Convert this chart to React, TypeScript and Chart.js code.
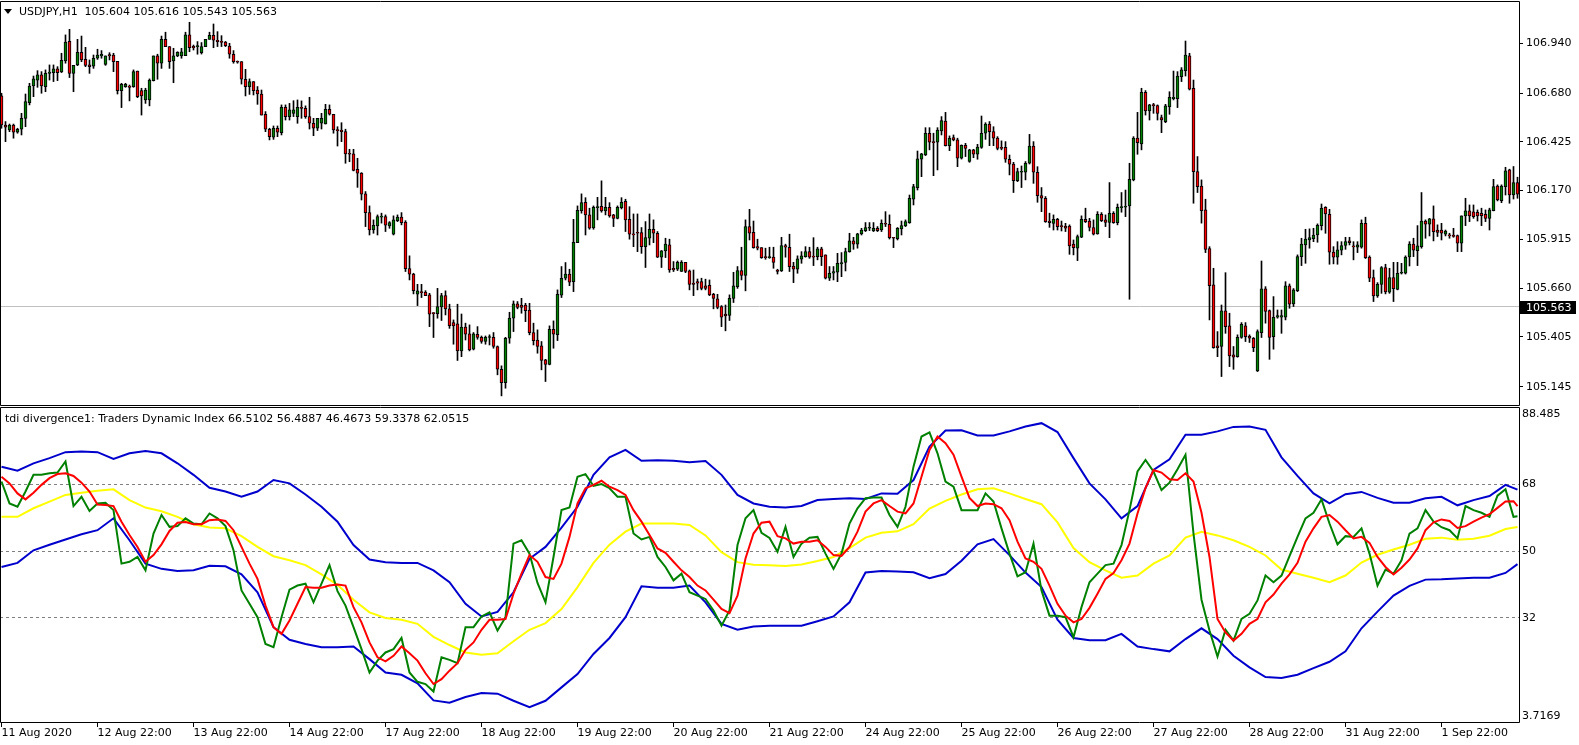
import React, { useEffect, useRef } from 'react';
import { Chart, registerables } from 'chart.js';

Chart.register(...registerables);

// ---------- Price panel data (USDJPY H1) ----------
const symbolTitle = 'USDJPY,H1';
const headerOHLC = ['105.604', '105.616', '105.543', '105.563'];
const currentPrice = 105.563;
const priceTicks = [106.94, 106.68, 106.425, 106.17, 105.915, 105.66, 105.405, 105.145];

const timeTickBars = [0, 24, 48, 72, 96, 120, 144, 168, 192, 216, 240, 264, 288, 312, 336, 360];
const timeTickLabels = [
  '11 Aug 2020', '12 Aug 22:00', '13 Aug 22:00', '14 Aug 22:00', '17 Aug 22:00', '18 Aug 22:00',
  '19 Aug 22:00', '20 Aug 22:00', '21 Aug 22:00', '24 Aug 22:00', '25 Aug 22:00', '26 Aug 22:00',
  '27 Aug 22:00', '28 Aug 22:00', '31 Aug 22:00', '1 Sep 22:00',
];

const opens = [
  106.665,106.513,106.487,106.513,106.475,106.491,106.548,106.630,106.717,106.748,
  106.775,106.714,106.783,106.787,106.806,106.790,106.848,106.950,106.783,106.827,
  106.893,106.856,106.827,106.820,106.862,106.874,106.830,106.881,106.879,106.846,
  106.693,106.714,106.717,106.714,106.795,106.693,106.644,106.644,106.745,106.874,
  106.836,106.961,106.923,106.848,106.874,106.874,106.876,106.985,106.924,106.923,
  106.891,106.923,106.961,106.982,106.956,106.950,106.947,106.926,106.883,106.844,
  106.844,106.752,106.714,106.740,106.696,106.675,106.569,106.491,106.449,106.496,
  106.473,106.606,106.557,106.574,106.557,106.606,106.600,106.557,106.522,106.496,
  106.522,106.518,106.595,106.569,106.487,106.487,106.478,106.362,106.362,106.281,
  106.261,106.153,106.055,105.964,105.985,106.031,106.034,105.985,105.942,106.013,
  106.031,106.006,105.762,105.734,105.628,105.642,105.640,105.625,105.532,105.527,
  105.562,105.621,105.552,105.480,105.473,105.332,105.456,105.421,105.341,105.419,
  105.403,105.381,105.402,105.403,105.355,105.236,105.166,105.398,105.503,105.578,
  105.572,105.572,105.546,105.428,105.389,105.358,105.285,105.261,105.445,105.417,
  105.623,105.712,105.734,105.694,105.898,106.065,106.109,106.043,105.975,106.081,
  106.088,106.064,106.083,106.043,106.025,106.081,106.114,106.020,105.944,105.950,
  105.950,105.877,105.921,105.968,105.947,105.822,105.855,105.886,105.764,105.759,
  105.747,105.795,105.750,105.686,105.694,105.694,105.672,105.675,105.628,105.604,
  105.564,105.524,105.517,105.607,105.668,105.752,105.727,105.982,105.952,105.877,
  105.872,105.823,105.820,105.822,105.755,105.750,105.883,105.874,105.776,105.759,
  105.811,105.825,105.851,105.827,105.825,105.865,105.834,105.712,105.738,105.743,
  105.787,105.794,105.851,105.907,105.890,105.944,105.961,105.973,105.959,105.973,
  105.964,105.999,105.994,105.926,105.919,105.970,105.985,106.003,106.125,106.186,
  106.334,106.356,106.470,106.424,106.423,106.482,106.534,106.405,106.447,106.435,
  106.339,106.407,106.322,106.383,106.360,106.396,106.470,106.518,106.478,106.445,
  106.396,106.396,106.334,106.309,106.222,106.266,106.266,106.313,106.403,106.266,
  106.144,106.130,106.011,105.999,106.020,105.987,105.985,105.985,105.890,105.869,
  105.926,106.020,106.011,105.977,105.944,106.046,106.017,106.004,106.051,106.003,
  106.081,106.083,106.090,106.226,106.444,106.414,106.684,106.586,106.618,106.614,
  106.552,106.531,106.609,106.651,106.651,106.766,106.797,106.874,106.705,106.269,
  106.194,106.069,105.867,105.677,105.358,105.355,105.541,105.463,105.311,105.302,
  105.403,105.463,105.410,105.398,105.227,105.428,105.656,105.543,105.407,105.508,
  105.508,105.508,105.672,105.578,105.647,105.825,105.886,105.912,105.919,105.938,
  105.987,106.083,106.046,105.848,105.822,105.858,105.883,105.907,105.881,105.874,
  105.874,105.999,105.822,105.715,105.619,105.680,105.768,105.639,105.715,105.654,
  105.738,105.738,105.823,105.891,105.856,105.877,106.011,105.994,106.022,105.964,
  105.964,105.942,105.938,105.937,105.935,105.895,106.038,106.064,106.059,106.057,
  106.051,106.046,106.024,106.065,106.194,106.118,106.191,106.278,106.147,106.212,
];

const highs = [
  106.679,106.531,106.518,106.518,106.496,106.574,106.675,106.731,106.769,106.797,
  106.792,106.801,106.827,106.827,106.818,106.888,106.984,107.013,106.825,106.961,
  106.978,106.919,106.853,106.879,106.909,106.902,106.874,106.891,106.888,106.846,
  106.731,106.731,106.722,106.801,106.795,106.705,106.705,106.754,106.874,106.883,
  106.978,106.998,106.923,106.914,106.896,106.914,106.998,107.050,106.931,106.949,
  106.944,106.961,106.998,107.041,107.001,106.980,106.950,106.940,106.902,106.848,
  106.844,106.804,106.754,106.740,106.714,106.696,106.583,106.496,106.508,106.508,
  106.618,106.618,106.626,106.640,106.644,106.639,106.613,106.658,106.548,106.548,
  106.574,106.621,106.618,106.569,106.504,106.525,106.491,106.386,106.386,106.339,
  106.264,106.165,106.090,106.017,106.043,106.052,106.043,106.008,106.038,106.043,
  106.055,106.013,105.829,105.738,105.680,105.680,105.647,105.633,105.532,105.659,
  105.633,105.646,105.576,105.494,105.576,105.525,105.477,105.468,105.428,105.459,
  105.410,105.410,105.416,105.428,105.358,105.254,105.403,105.534,105.593,105.590,
  105.607,105.581,105.581,105.477,105.442,105.381,105.288,105.463,105.489,105.651,
  105.773,105.794,105.759,106.020,106.090,106.153,106.133,106.078,106.090,106.135,
  106.221,106.135,106.107,106.046,106.090,106.133,106.125,106.086,106.048,106.048,
  105.977,106.008,106.048,106.017,105.956,105.857,105.921,105.916,105.799,105.802,
  105.804,105.795,105.755,105.755,105.708,105.712,105.707,105.703,105.633,105.628,
  105.569,105.572,105.625,105.743,105.773,105.874,106.017,106.072,106.011,105.916,
  105.872,105.869,105.874,105.874,105.759,105.926,105.890,105.942,105.795,105.829,
  105.851,105.877,105.874,105.924,105.874,105.874,105.834,105.773,105.773,105.842,
  105.846,105.869,105.947,105.926,105.947,105.973,106.003,106.003,106.003,105.982,
  106.017,106.060,106.043,105.926,105.977,106.011,106.017,106.147,106.203,106.377,
  106.365,106.499,106.499,106.470,106.499,106.557,106.579,106.456,106.461,106.444,
  106.409,106.417,106.386,106.386,106.412,106.560,106.525,106.531,106.504,106.452,
  106.430,106.426,106.356,106.318,106.287,106.299,106.322,106.464,106.426,106.295,
  106.186,106.139,106.052,106.043,106.025,106.011,105.999,105.991,105.912,105.938,
  106.038,106.078,106.025,106.017,106.060,106.055,106.043,106.212,106.060,106.100,
  106.160,106.173,106.313,106.452,106.579,106.705,106.693,106.621,106.626,106.618,
  106.565,106.621,106.687,106.795,106.792,106.813,106.952,106.888,106.748,106.348,
  106.226,106.125,105.877,105.764,105.433,105.572,105.741,105.529,105.355,105.416,
  105.480,105.480,105.416,105.402,105.442,105.802,105.668,105.546,105.616,105.546,
  105.546,105.694,105.682,105.658,105.834,105.921,105.968,105.970,105.973,105.996,
  106.100,106.086,106.072,105.877,105.903,105.903,105.926,105.926,105.903,105.903,
  106.017,106.031,105.829,105.755,105.689,105.773,105.785,105.764,105.795,105.795,
  105.790,105.829,105.903,105.921,105.987,106.160,106.017,106.025,106.090,105.991,
  105.999,105.964,105.947,105.973,105.938,106.038,106.130,106.095,106.095,106.069,
  106.078,106.069,106.078,106.229,106.200,106.200,106.292,106.282,106.296,106.240,
];

const lows = [
  106.496,106.426,106.478,106.444,106.470,106.461,106.504,106.618,106.661,106.710,
  106.679,106.687,106.748,106.740,106.745,106.787,106.836,106.761,106.687,106.823,
  106.844,106.818,106.783,106.809,106.856,106.862,106.825,106.853,106.792,106.675,
  106.604,106.710,106.639,106.710,106.656,106.565,106.626,106.613,106.743,106.752,
  106.809,106.923,106.809,106.734,106.870,106.862,106.876,106.896,106.905,106.883,
  106.884,106.923,106.961,106.917,106.923,106.923,106.923,106.862,106.836,106.836,
  106.727,106.665,106.673,106.670,106.621,106.565,106.478,106.435,106.438,106.452,
  106.461,106.539,106.539,106.557,106.522,106.548,106.548,106.492,106.457,106.484,
  106.492,106.518,106.565,106.470,106.403,106.426,106.313,106.321,106.273,106.187,
  106.121,105.982,105.938,105.947,105.938,106.000,105.956,105.973,105.938,106.008,
  105.991,105.747,105.703,105.630,105.569,105.611,105.621,105.459,105.402,105.503,
  105.491,105.520,105.450,105.367,105.282,105.302,105.389,105.332,105.337,105.393,
  105.372,105.367,105.363,105.346,105.207,105.097,105.137,105.372,105.433,105.552,
  105.529,105.485,105.416,105.363,105.320,105.233,105.172,105.259,105.346,105.386,
  105.611,105.703,105.673,105.642,105.898,106.052,105.938,105.968,105.968,106.017,
  106.057,106.043,106.031,105.982,106.022,106.074,105.956,105.916,105.877,105.851,
  105.842,105.768,105.886,105.898,105.820,105.768,105.820,105.743,105.747,105.752,
  105.747,105.741,105.651,105.621,105.651,105.651,105.651,105.621,105.552,105.552,
  105.459,105.437,105.491,105.585,105.659,105.703,105.646,105.912,105.869,105.860,
  105.816,105.811,105.816,105.764,105.734,105.747,105.822,105.747,105.689,105.738,
  105.790,105.822,105.816,105.778,105.808,105.778,105.708,105.700,105.703,105.694,
  105.720,105.750,105.848,105.863,105.869,105.938,105.956,105.961,105.956,105.956,
  105.956,105.982,105.917,105.872,105.912,105.938,105.982,105.999,106.095,106.173,
  106.243,106.353,106.383,106.248,106.278,106.461,106.403,106.379,106.430,106.295,
  106.335,106.348,106.318,106.342,106.334,106.391,106.438,106.405,106.405,106.383,
  106.383,106.318,106.252,106.160,106.217,106.186,106.226,106.309,106.208,106.109,
  106.060,106.004,105.978,105.964,105.964,105.959,105.956,105.837,105.834,105.804,
  105.924,106.003,105.959,105.938,105.942,106.008,105.982,105.924,105.999,105.991,
  106.057,106.034,105.602,106.221,106.360,106.383,106.565,106.539,106.574,106.539,
  106.473,106.525,106.569,106.644,106.604,106.740,106.769,106.696,106.104,106.160,
  106.000,105.846,105.494,105.346,105.302,105.198,105.424,105.250,105.236,105.299,
  105.398,105.381,105.376,105.328,105.224,105.402,105.477,105.288,105.341,105.503,
  105.424,105.494,105.555,105.564,105.642,105.778,105.790,105.869,105.903,105.900,
  105.964,105.947,105.785,105.787,105.785,105.834,105.863,105.886,105.808,105.846,
  105.869,105.815,105.694,105.590,105.612,105.633,105.630,105.633,105.590,105.651,
  105.734,105.734,105.776,105.825,105.778,105.869,105.921,105.933,105.907,105.930,
  105.912,105.933,105.921,105.926,105.851,105.851,105.987,106.008,106.025,106.011,
  105.987,106.008,105.964,106.064,106.116,106.107,106.147,106.104,106.126,106.130,
];

const closes = [
  106.513,106.501,106.513,106.475,106.491,106.548,106.635,106.717,106.754,106.775,
  106.717,106.783,106.790,106.806,106.787,106.851,106.947,106.783,106.825,106.893,
  106.853,106.825,106.818,106.862,106.879,106.883,106.874,106.874,106.844,106.693,
  106.726,106.726,106.710,106.792,106.661,106.665,106.696,106.748,106.874,106.836,
  106.961,106.923,106.844,106.874,106.893,106.896,106.985,106.917,106.917,106.926,
  106.923,106.961,106.982,106.956,106.949,106.945,106.928,106.883,106.844,106.841,
  106.752,106.714,106.740,106.693,106.675,106.565,106.491,106.452,106.496,106.475,
  106.606,106.557,106.592,106.592,106.606,106.600,106.557,106.522,106.496,106.548,
  106.548,106.595,106.569,106.487,106.484,106.478,106.362,106.360,106.275,106.261,
  106.151,106.055,105.964,105.989,106.034,106.034,105.989,106.003,106.017,106.031,
  106.003,105.762,105.733,105.647,105.646,105.637,105.621,105.524,105.527,105.564,
  105.621,105.552,105.464,105.463,105.332,105.456,105.419,105.337,105.421,105.403,
  105.381,105.403,105.407,105.355,105.236,105.166,105.398,105.503,105.578,105.560,
  105.560,105.543,105.428,105.386,105.355,105.282,105.261,105.445,105.419,105.628,
  105.712,105.734,105.691,105.900,106.067,106.107,106.043,105.973,106.083,106.086,
  106.064,106.083,106.038,106.025,106.083,106.109,106.017,105.942,105.938,105.947,
  105.877,105.924,105.968,105.947,105.822,105.855,105.891,105.755,105.755,105.795,
  105.795,105.747,105.680,105.680,105.686,105.659,105.659,105.625,105.607,105.560,
  105.508,105.515,105.607,105.672,105.752,105.727,105.982,105.947,105.872,105.869,
  105.820,105.820,105.823,105.795,105.747,105.883,105.874,105.773,105.759,105.813,
  105.829,105.851,105.822,105.822,105.865,105.825,105.712,105.738,105.747,105.790,
  105.794,105.851,105.907,105.890,105.944,105.964,105.977,105.978,105.973,105.961,
  105.999,105.994,105.924,105.921,105.973,105.987,106.008,106.130,106.191,106.336,
  106.362,106.470,106.423,106.421,106.487,106.536,106.405,106.443,106.435,106.339,
  106.407,106.391,106.383,106.360,106.398,106.470,106.518,106.478,106.444,106.391,
  106.391,106.334,106.308,106.222,106.269,106.271,106.313,106.403,106.266,106.144,
  106.130,106.008,106.003,106.020,105.982,105.982,105.973,105.881,105.872,105.930,
  106.020,106.008,105.977,105.942,106.046,106.013,106.004,106.051,106.003,106.083,
  106.086,106.086,106.229,106.444,106.421,106.684,106.586,106.618,106.614,106.574,
  106.539,106.613,106.658,106.658,106.769,106.801,106.879,106.700,106.269,106.191,
  106.065,105.863,105.673,105.349,105.349,105.541,105.459,105.306,105.299,105.403,
  105.471,105.407,105.398,105.349,105.433,105.656,105.538,105.403,105.508,105.517,
  105.517,105.672,105.576,105.651,105.825,105.891,105.916,105.924,105.938,105.989,
  106.078,106.048,105.848,105.822,105.860,105.883,105.903,105.898,105.876,105.886,
  105.999,105.820,105.712,105.619,105.680,105.768,105.640,105.715,105.658,105.738,
  105.741,105.823,105.891,105.858,105.881,106.011,105.994,106.022,105.956,105.952,
  105.947,105.959,105.933,105.930,105.895,106.038,106.064,106.038,106.034,106.038,
  106.039,106.025,106.069,106.191,106.121,106.194,106.273,106.147,106.212,106.151,
];

// ---------- Traders Dynamic Index data ----------
const tdiTitle = 'tdi divergence1: Traders Dynamic Index';
const tdiLegendValues = ['66.5102', '56.4887', '46.4673', '59.3378', '62.0515'];
const tdiLevels = [68, 50, 32];
const tdiTickValues = [3.7169, 32, 50, 68, 88.485];
const tdiTickLabels = ['3.7169', '32', '50', '68', '88.485'];
const LAST_BAR = 379;
const SMOOTH_STEP = 4; // bands and market base sampled every 4 bars
const FAST_STEP = 2;   // RSI price line and signal sampled every 2 bars

const upperBand = [
  72.7, 71.6, 73.6, 75.0, 76.6, 76.8, 76.6, 74.8, 76.3, 76.9, 76.3, 73.6, 70.5, 67.0, 66.0, 64.6, 66.0, 69.1, 68.2, 65.2, 61.9, 57.9, 51.6, 47.7, 47.0,
  46.8, 46.8, 44.8, 41.6, 35.8, 32.4, 33.6, 38.9, 47.9, 51.1, 56.3, 61.9, 70.5, 75.2, 77.2, 74.3, 74.4, 74.3, 73.9, 74.2, 70.5, 65.1, 62.8, 61.9,
  61.7, 62.1, 63.7, 64.0, 64.2, 64.0, 65.5, 65.4, 69.1, 78.1, 82.4, 82.5, 81.1, 81.1, 82.2, 83.5, 84.4, 82.0, 75.0, 68.2, 63.9, 58.8, 62.1,
  71.8, 74.7, 81.3, 81.3, 82.2, 83.4, 83.5, 82.6, 75.2, 70.2, 65.5, 62.8, 65.3, 65.9, 64.3, 63.0, 63.0, 64.2, 64.6, 62.3, 63.7, 64.8, 67.8,
  66.51,
];
const lowerBand = [
  45.7, 46.8, 50.2, 51.7, 53.1, 54.5, 55.6, 58.8, 52.9, 46.6, 45.2, 44.6, 44.8, 46.0, 45.9, 43.7, 38.9, 29.5, 26.1, 25.0, 24.1, 24.1, 24.3, 20.9, 17.3,
  16.7, 14.4, 9.8, 9.2, 10.7, 11.8, 11.6, 9.7, 8.0, 9.7, 13.3, 16.9, 22.3, 26.6, 32.2, 40.5, 40.1, 40.1, 40.7, 36.2, 30.4, 28.8, 29.7, 29.9,
  29.9, 29.9, 31.1, 32.4, 36.2, 44.2, 44.6, 44.5, 44.3, 42.7, 43.8, 47.4, 51.8, 53.2, 48.9, 44.2, 40.3, 31.5, 26.6, 26.0, 26.0, 27.7, 24.3,
  23.6, 23.0, 26.3, 29.2, 26.3, 21.8, 18.7, 16.1, 15.8, 16.7, 18.5, 20.2, 23.0, 29.2, 33.7, 38.0, 40.6, 42.3, 42.4, 42.6, 42.8, 42.8, 44.1,
  46.47,
];
const marketBase = [
  59.2, 59.2, 61.5, 63.3, 65.1, 65.7, 66.2, 66.6, 63.7, 61.7, 60.7, 59.2, 57.2, 56.3, 56.1, 54.0, 51.1, 48.6, 47.5, 46.2, 43.7, 40.9, 36.9, 33.5, 32.0,
  31.5, 30.4, 26.9, 24.7, 22.7, 22.1, 22.5, 25.7, 28.8, 30.6, 34.4, 40.3, 46.8, 51.7, 55.2, 57.4, 57.4, 57.4, 57.0, 54.2, 49.7, 47.0, 46.3, 46.2,
  46.0, 46.4, 47.3, 48.4, 50.8, 53.6, 54.9, 55.3, 57.2, 61.4, 63.5, 65.2, 66.6, 66.9, 65.5, 64.0, 62.6, 57.7, 50.8, 47.0, 44.8, 42.8, 43.4,
  46.6, 48.8, 53.6, 55.2, 54.2, 52.9, 51.1, 48.8, 45.0, 43.9, 42.8, 41.6, 43.4, 46.9, 49.0, 50.4, 51.7, 53.3, 53.6, 53.0, 53.3, 54.1, 55.9,
  56.49,
];
const rsiPriceLine = [
  68.7, 62.8, 61.9, 66.0, 70.5, 70.5, 70.9, 71.1, 74.1, 62.1, 64.6, 60.8, 62.8, 63.0, 61.0, 46.6, 47.1, 48.4, 44.8, 54.7, 59.7, 56.5, 56.7, 58.8, 57.4,
  57.2, 60.1, 58.8, 56.7, 50.2, 39.4, 35.8, 32.2, 25.0, 24.1, 32.2, 39.6, 40.7, 41.2, 36.2, 41.2, 46.2, 39.2, 35.3, 29.5, 23.6, 17.3, 20.5, 22.7,
  23.6, 26.6, 17.3, 14.8, 14.2, 12.2, 21.4, 20.7, 19.8, 29.5, 29.5, 32.4, 33.5, 28.6, 32.2, 52.0, 52.9, 49.3, 41.4, 36.2, 48.4, 61.0, 61.7, 70.0,
  70.7, 67.5, 68.0, 66.9, 64.6, 64.6, 54.7, 53.1, 53.8, 48.4, 45.7, 42.1, 43.9, 38.9, 38.0, 37.1, 34.0, 29.9, 34.0, 51.6, 58.8, 61.0, 54.9, 53.5,
  49.8, 56.5, 48.4, 52.0, 53.6, 53.8, 49.3, 45.2, 49.3, 57.4, 61.5, 64.2, 64.4, 64.4, 59.7, 56.5, 61.9, 72.7, 80.8, 81.9, 76.3, 68.7, 67.3, 61.0,
  61.0, 61.0, 65.5, 63.3, 56.1, 49.3, 43.2, 44.3, 52.0, 39.4, 32.6, 32.6, 32.2, 26.8, 34.9, 41.6, 43.9, 46.2, 46.6, 51.6, 61.0, 71.4, 74.5,
  71.4, 66.4, 68.4, 72.0, 75.9, 54.7, 36.9, 28.6, 21.6, 28.8, 25.9, 31.7, 33.1, 36.7, 43.4, 41.6, 43.4, 48.6, 53.8, 58.8, 60.3, 63.9, 57.4,
  51.8, 54.0, 53.8, 56.1, 49.3, 40.7, 45.0, 43.9, 47.5, 54.7, 56.1, 61.0, 57.9, 56.4, 55.6, 53.4, 62.1, 61.0, 60.3, 59.2, 64.9, 66.6, 59.2,
  59.34,
];
const tradeSignal = [
  70.0, 68.2, 65.5, 63.9, 65.7, 67.8, 69.6, 70.7, 70.9, 70.2, 68.4, 66.0, 62.5, 62.4, 62.1, 57.9, 54.3, 51.1, 47.1, 48.9, 51.8, 55.4, 57.6, 57.8, 57.2,
  57.2, 58.3, 58.5, 58.1, 55.6, 51.1, 46.6, 42.5, 35.3, 29.5, 27.7, 31.3, 35.8, 40.3, 40.1, 40.1, 40.7, 41.0, 40.7, 34.9, 30.8, 25.4, 21.4, 20.3,
  21.8, 24.3, 22.5, 20.5, 17.1, 14.2, 15.5, 17.8, 19.8, 23.4, 25.4, 28.8, 31.5, 31.5, 31.7, 38.5, 43.9, 48.9, 47.1, 43.0, 42.5, 46.6, 53.8, 62.8,
  66.9, 67.8, 68.9, 67.3, 66.4, 65.1, 61.0, 57.9, 54.3, 50.7, 49.5, 47.1, 44.8, 43.0, 40.7, 39.4, 36.9, 34.4, 33.3, 38.0, 48.0, 54.7, 57.6, 57.9,
  54.0, 53.4, 52.0, 52.5, 52.5, 52.9, 51.1, 48.9, 48.7, 51.1, 55.2, 60.6, 62.8, 63.7, 62.1, 60.6, 60.1, 62.8, 70.0, 77.2, 80.8, 79.0, 75.9, 70.0,
  64.3, 62.1, 62.8, 62.6, 61.5, 58.3, 52.5, 48.0, 47.1, 45.2, 40.7, 35.8, 32.6, 30.8, 31.7, 34.7, 38.5, 42.5, 44.1, 47.5, 52.0, 60.1, 66.9,
  71.8, 71.1, 69.3, 69.1, 70.9, 68.7, 60.3, 48.4, 31.7, 28.1, 25.9, 27.7, 30.4, 31.7, 36.2, 38.3, 41.2, 43.7, 46.8, 52.5, 56.1, 59.2, 59.7,
  57.9, 55.6, 53.4, 53.8, 52.2, 48.4, 45.7, 43.7, 45.5, 47.7, 50.7, 55.6, 57.7, 58.5, 58.1, 56.2, 56.7, 57.9, 59.0, 59.9, 61.6, 63.3, 63.4,
  62.05,
];

// ---------- styling ----------
const FONT = "'DejaVu Sans', 'Liberation Sans', sans-serif";
const BULL = '#008000';
const BEAR = '#FF0000';
const BAND_BLUE = '#0000CD';
const X_MIN = -0.375;
const X_MAX = 379.375;
const PRICE_MIN = 105.044;
const PRICE_MAX = 107.156;

const sampled = (values: number[], step: number) =>
  values.map((v, k) => ({ x: k === values.length - 1 ? LAST_BAR : k * step, y: v }));

const framePlugin = {
  id: 'panelFrame',
  afterDraw(chart: any) {
    const { ctx, chartArea: a } = chart;
    const l = 0.5;
    const r = Math.round(a.right) + 0.5;
    const t = Math.round(a.top) - 0.5;
    const b = Math.round(a.bottom) - 0.5;
    ctx.save();
    ctx.strokeStyle = '#000';
    ctx.lineWidth = 1;
    ctx.beginPath();
    ctx.moveTo(l, t);
    ctx.lineTo(r, t);
    ctx.lineTo(r, b);
    ctx.lineTo(l, b);
    ctx.closePath();
    ctx.stroke();
    ctx.restore();
  },
};

const priceLinePlugin = {
  id: 'priceLine',
  beforeDatasetsDraw(chart: any) {
    const { ctx, chartArea: a } = chart;
    const y = Math.round(chart.scales.y.getPixelForValue(currentPrice)) - 0.5;
    ctx.save();
    ctx.strokeStyle = '#C0C0C0';
    ctx.lineWidth = 1;
    ctx.beginPath();
    ctx.moveTo(a.left, y);
    ctx.lineTo(a.right, y);
    ctx.stroke();
    ctx.restore();
  },
  afterDraw(chart: any) {
    const { ctx, chartArea: a } = chart;
    const y = Math.round(chart.scales.y.getPixelForValue(currentPrice)) - 1;
    ctx.save();
    ctx.fillStyle = '#000';
    ctx.fillRect(Math.round(a.right) + 1, y - 5, 56, 13);
    ctx.fillStyle = '#fff';
    ctx.font = `11px ${FONT}`;
    ctx.textBaseline = 'middle';
    ctx.textAlign = 'left';
    ctx.fillText(currentPrice.toFixed(3), Math.round(a.right) + 7, y + 2);
    ctx.restore();
  },
};

export default function App() {
  const topRef = useRef<HTMLCanvasElement>(null);
  const botRef = useRef<HTMLCanvasElement>(null);

  useEffect(() => {
    Chart.defaults.font.family = FONT;
    Chart.defaults.font.size = 11;
    Chart.defaults.color = '#000';

    const bodyColors = opens.map((o, i) => (closes[i] >= o ? BULL : BEAR));

    const top = new Chart(topRef.current as HTMLCanvasElement, {
      type: 'bar',
      data: {
        datasets: [
          {
            label: 'body',
            data: opens.map((o, i) => ({ x: i, y: [o, closes[i]] })) as any,
            backgroundColor: bodyColors,
            borderColor: '#000',
            borderWidth: 1,
            borderSkipped: false,
            barThickness: 3,
            grouped: false,
            minBarLength: 1,
            order: 1,
          } as any,
          {
            label: 'wick',
            data: highs.map((h, i) => ({ x: i, y: [lows[i], h] })) as any,
            backgroundColor: '#000',
            borderWidth: 0,
            barThickness: 1,
            grouped: false,
            order: 2,
          } as any,
        ],
      },
      options: {
        responsive: false,
        animation: false,
        devicePixelRatio: 1,
        events: [],
        layout: { padding: { top: 2, left: 0, right: 0, bottom: 0 } },
        plugins: { legend: { display: false }, tooltip: { enabled: false } },
        scales: {
          x: {
            type: 'linear',
            min: X_MIN,
            max: X_MAX,
            offset: false,
            display: false,
            grid: { offset: false },
          },
          y: {
            type: 'linear',
            position: 'right',
            min: PRICE_MIN,
            max: PRICE_MAX,
            beginAtZero: false,
            afterBuildTicks: (s: any) => {
              s.ticks = priceTicks.map((v) => ({ value: v }));
            },
            afterFit: (s: any) => {
              s.width = 60;
              s.paddingTop = 0;
              s.paddingBottom = 0;
            },
            ticks: {
              autoSkip: false,
              padding: 3,
              color: '#000',
              font: { family: FONT, size: 11 },
              callback: (v: any) => Number(v).toFixed(3),
            },
            grid: { drawOnChartArea: false, drawTicks: true, tickLength: 4, color: '#000' },
            border: { display: false },
          },
        },
      } as any,
      plugins: [priceLinePlugin, framePlugin],
    });

    const lineDs = (label: string, values: number[], step: number, color: string, order: number) => ({
      label,
      data: sampled(values, step),
      borderColor: color,
      backgroundColor: color,
      borderWidth: 2,
      pointRadius: 0,
      tension: 0,
      fill: false,
      order,
    });

    const bot = new Chart(botRef.current as HTMLCanvasElement, {
      type: 'line',
      data: {
        datasets: [
          lineDs('Trade Signal', tradeSignal, FAST_STEP, '#FF0000', 1),
          lineDs('RSI Price Line', rsiPriceLine, FAST_STEP, '#008000', 2),
          lineDs('Lower Band', lowerBand, SMOOTH_STEP, BAND_BLUE, 3),
          lineDs('Market Base', marketBase, SMOOTH_STEP, '#FFFF00', 4),
          lineDs('Upper Band', upperBand, SMOOTH_STEP, BAND_BLUE, 5),
        ] as any,
      },
      options: {
        responsive: false,
        animation: false,
        devicePixelRatio: 1,
        events: [],
        layout: { padding: { top: 2, left: 0, right: 0, bottom: 0 } },
        plugins: { legend: { display: false }, tooltip: { enabled: false } },
        scales: {
          x: {
            type: 'linear',
            min: X_MIN,
            max: X_MAX,
            offset: false,
            afterBuildTicks: (s: any) => {
              s.ticks = timeTickBars.map((v) => ({ value: v }));
            },
            afterFit: (s: any) => {
              s.height = 22;
              s.paddingLeft = 0;
              s.paddingRight = 0;
            },
            ticks: {
              autoSkip: false,
              maxRotation: 0,
              minRotation: 0,
              align: 'start',
              padding: 0,
              color: '#000',
              font: { family: FONT, size: 11 },
              callback: (_v: any, i: number) => timeTickLabels[i] ?? '',
            },
            grid: { drawOnChartArea: false, drawTicks: true, tickLength: 4, color: '#000', offset: false },
            border: { display: false },
          },
          y: {
            type: 'linear',
            position: 'right',
            min: tdiTickValues[0],
            max: tdiTickValues[tdiTickValues.length - 1],
            beginAtZero: false,
            afterBuildTicks: (s: any) => {
              s.ticks = tdiTickValues.map((v) => ({ value: v }));
            },
            afterFit: (s: any) => {
              s.width = 60;
              s.paddingTop = 0;
              s.paddingBottom = 0;
            },
            ticks: {
              autoSkip: false,
              padding: 3,
              color: '#000',
              font: { family: FONT, size: 11 },
              callback: (_v: any, i: number) => {
                const t = tdiTickLabels[i];
                if (i === 0) return [t, ''];
                if (i === tdiTickLabels.length - 1) return ['', t];
                return t;
              },
            },
            grid: {
              drawTicks: false,
              lineWidth: 1,
              color: (ctx: any) =>
                ctx.tick && tdiLevels.includes(ctx.tick.value) ? '#808080' : 'rgba(0,0,0,0)',
            },
            border: { display: false, dash: [3, 3] },
          },
        },
      } as any,
      plugins: [framePlugin],
    });

    return () => {
      top.destroy();
      bot.destroy();
    };
  }, []);

  const textStyle: React.CSSProperties = {
    position: 'absolute',
    fontFamily: FONT,
    fontSize: 11,
    lineHeight: '13px',
    color: '#000',
    whiteSpace: 'pre',
  };

  return (
    <div style={{ position: 'fixed', left: 0, top: 0, width: 1579, height: 745, background: '#fff', overflow: 'hidden' }}>
      <canvas ref={topRef} width={1579} height={406} style={{ position: 'absolute', left: 0, top: 0, width: 1579, height: 406 }} />
      <canvas ref={botRef} width={1579} height={339} style={{ position: 'absolute', left: 0, top: 406, width: 1579, height: 339 }} />
      <div
        style={{
          position: 'absolute',
          left: 4,
          top: 9,
          width: 0,
          height: 0,
          borderLeft: '4px solid transparent',
          borderRight: '4px solid transparent',
          borderTop: '5px solid #000',
        }}
      />
      <div style={{ ...textStyle, left: 19, top: 5 }}>{`${symbolTitle}  ${headerOHLC.join(' ')}`}</div>
      <div style={{ ...textStyle, left: 5, top: 412 }}>{`${tdiTitle} ${tdiLegendValues.join(' ')}`}</div>
    </div>
  );
}
